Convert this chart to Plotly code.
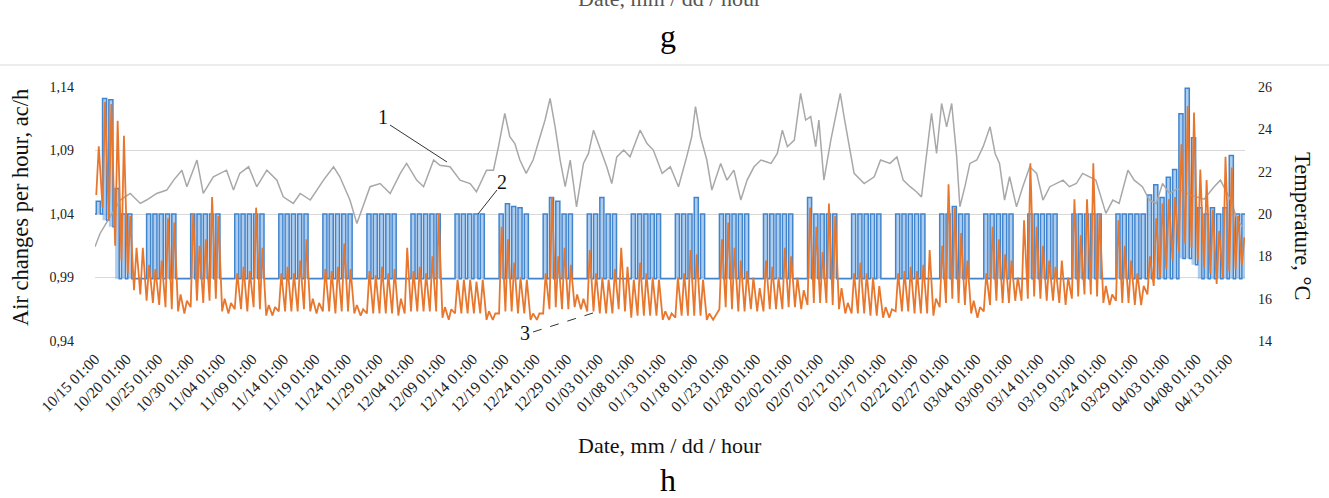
import numpy as np
import pandas as pd
import plotly.graph_objects as go

# ---------------- data ----------------
start = pd.Timestamp("2017-10-15 01:00")

tick_labels = [
    "10/15 01:00", "10/20 01:00", "10/25 01:00", "10/30 01:00", "11/04 01:00", "11/09 01:00",
    "11/14 01:00", "11/19 01:00", "11/24 01:00", "11/29 01:00", "12/04 01:00", "12/09 01:00",
    "12/14 01:00", "12/19 01:00", "12/24 01:00", "12/29 01:00", "01/03 01:00", "01/08 01:00",
    "01/13 01:00", "01/18 01:00", "01/23 01:00", "01/28 01:00", "02/02 01:00", "02/07 01:00",
    "02/12 01:00", "02/17 01:00", "02/22 01:00", "02/27 01:00", "03/04 01:00", "03/09 01:00",
    "03/14 01:00", "03/19 01:00", "03/24 01:00", "03/29 01:00", "04/03 01:00", "04/08 01:00",
    "04/13 01:00",
]

# series 2 (blue): daytime air change level and night level, one value per day (ac/h)
blue_day = [
    1.05, 1.131, 1.13, 1.06, 1.04, 1.04, 0.989,
    0.989, 1.04, 1.04, 1.04, 1.04, 1.04, 0.989,
    0.989, 1.04, 1.04, 1.04, 1.04, 1.04, 0.989,
    0.989, 1.04, 1.04, 1.04, 1.04, 1.04, 0.989,
    0.989, 1.04, 1.04, 1.04, 1.04, 1.04, 0.989,
    0.989, 1.04, 1.04, 1.04, 1.04, 1.04, 0.989,
    0.989, 1.04, 1.04, 1.04, 1.04, 1.04, 0.989,
    0.989, 1.04, 1.04, 1.04, 1.04, 1.04, 0.989,
    0.989, 1.04, 1.04, 1.04, 1.04, 1.04, 0.989,
    0.989, 1.04, 1.048, 1.046, 1.045, 1.04, 0.989,
    0.989, 1.04, 1.053, 1.05, 1.04, 1.04, 0.989,
    0.989, 1.04, 1.04, 1.053, 1.04, 1.04, 0.989,
    0.989, 1.04, 1.04, 1.04, 1.04, 1.04, 0.989,
    0.989, 1.04, 1.04, 1.04, 1.053, 1.04, 0.989,
    0.989, 1.04, 1.04, 1.04, 1.04, 1.04, 0.989,
    0.989, 1.04, 1.04, 1.04, 1.04, 1.04, 0.989,
    0.989, 1.053, 1.04, 1.04, 1.04, 1.04, 0.989,
    0.989, 1.04, 1.04, 1.04, 1.04, 1.04, 0.989,
    0.989, 1.04, 1.04, 1.04, 1.04, 1.04, 0.989,
    0.989, 1.04, 1.04, 1.046, 1.04, 1.04, 0.989,
    0.989, 1.04, 1.04, 1.04, 1.04, 1.04, 0.989,
    0.989, 1.04, 1.04, 1.04, 1.04, 1.04, 0.989,
    0.989, 1.04, 1.04, 1.04, 1.04, 1.04, 0.989,
    0.989, 1.04, 1.04, 1.04, 1.04, 1.04, 1.055,
    1.063, 1.053, 1.069, 1.075, 1.119, 1.139, 1.10,
    1.045, 1.04, 1.045, 1.04, 1.045, 1.086, 1.04,
    1.04,
]
blue_night = [
    1.04, 1.035, 1.03, 0.989, 0.989, 0.989, 0.989,
    0.989, 0.989, 0.989, 0.989, 0.989, 0.989, 0.989,
    0.989, 0.989, 0.989, 0.989, 0.989, 0.989, 0.989,
    0.989, 0.989, 0.989, 0.989, 0.989, 0.989, 0.989,
    0.989, 0.989, 0.989, 0.989, 0.989, 0.989, 0.989,
    0.989, 0.989, 0.989, 0.989, 0.989, 0.989, 0.989,
    0.989, 0.989, 0.989, 0.989, 0.989, 0.989, 0.989,
    0.989, 0.989, 0.989, 0.989, 0.989, 0.989, 0.989,
    0.989, 0.989, 0.989, 0.989, 0.989, 0.989, 0.989,
    0.989, 0.989, 0.989, 0.989, 0.989, 0.989, 0.989,
    0.989, 0.989, 0.989, 0.989, 0.989, 0.989, 0.989,
    0.989, 0.989, 0.989, 0.989, 0.989, 0.989, 0.989,
    0.989, 0.989, 0.989, 0.989, 0.989, 0.989, 0.989,
    0.989, 0.989, 0.989, 0.989, 0.989, 0.989, 0.989,
    0.989, 0.989, 0.989, 0.989, 0.989, 0.989, 0.989,
    0.989, 0.989, 0.989, 0.989, 0.989, 0.989, 0.989,
    0.989, 0.989, 0.989, 0.989, 0.989, 0.989, 0.989,
    0.989, 0.989, 0.989, 0.989, 0.989, 0.989, 0.989,
    0.989, 0.989, 0.989, 0.989, 0.989, 0.989, 0.989,
    0.989, 0.989, 0.989, 0.989, 0.989, 0.989, 0.989,
    0.989, 0.989, 0.989, 0.989, 0.989, 0.989, 0.989,
    0.989, 0.989, 0.989, 0.989, 0.989, 0.989, 0.989,
    0.989, 0.989, 0.989, 0.989, 0.989, 0.989, 0.989,
    0.989, 0.989, 0.989, 0.989, 0.989, 0.989, 0.989,
    0.989, 0.989, 0.989, 0.989, 1.005, 1.005, 1.0,
    0.989, 0.989, 0.989, 0.989, 0.989, 0.989, 0.989,
    0.989,
]

# series 3 (orange): daily maximum and minimum temperature, deg C
orange_peak = [
    23.2, 25.3, 25.2, 24.4, 23.7, 19.9, 18.4,
    18.4, 17.6, 17.4, 17.8, 19.8, 19.6, 16.2,
    15.9, 20.0, 18.5, 18.8, 20.8, 19.9, 16.0,
    15.8, 17.2, 17.5, 17.3, 20.3, 18.4, 15.7,
    15.6, 17.2, 17.5, 17.2, 17.8, 18.8, 16.0,
    15.8, 17.4, 17.3, 17.5, 18.6, 17.4, 15.7,
    15.5, 17.3, 17.1, 17.5, 17.2, 17.4, 16.0,
    18.4, 17.3, 17.5, 17.2, 18.0, 20.0, 15.6,
    15.5, 16.9, 16.9, 16.9, 16.8, 16.9, 15.4,
    15.3, 19.4, 18.8, 17.7, 17.0, 16.9, 15.3,
    15.3, 17.2, 20.8, 18.0, 18.4, 17.6, 16.2,
    16.0, 18.3, 17.2, 17.0, 16.9, 17.4, 18.4,
    17.5, 16.9, 17.7, 17.2, 17.0, 16.9, 15.4,
    15.3, 17.0, 17.2, 18.3, 18.1, 16.9, 15.3,
    15.2, 18.8, 19.6, 18.4, 17.8, 17.3, 17.0,
    16.5, 17.8, 17.5, 17.0, 18.4, 18.0, 17.0,
    16.4, 20.3, 19.4, 18.2, 20.5, 19.9, 16.5,
    15.8, 17.2, 17.7, 17.2, 17.0, 16.6, 15.6,
    15.5, 17.2, 17.3, 17.5, 17.3, 17.6, 18.3,
    16.0, 18.5, 21.4, 20.3, 19.1, 17.8, 15.9,
    15.6, 17.2, 19.4, 18.8, 18.1, 17.8, 17.0,
    19.7, 22.4, 19.4, 18.5, 17.8, 17.5, 17.8,
    17.0, 20.7, 19.0, 20.7, 22.4, 20.0, 16.6,
    16.2, 19.7, 18.5, 17.8, 17.2, 16.6, 18.0,
    19.8, 20.5, 20.7, 20.8, 23.3, 25.1, 24.8,
    22.1, 21.6, 20.2, 19.2, 22.7, 22.2, 19.9,
    18.9,
]
orange_trough = [
    20.9, 20.3, 19.7, 18.5, 17.8, 17.2, 16.4,
    16.2, 15.9, 15.8, 15.7, 15.6, 15.5, 15.4,
    15.3, 15.6, 15.9, 15.8, 15.9, 16.0, 15.4,
    15.3, 15.5, 15.5, 15.4, 15.6, 15.5, 15.2,
    15.2, 15.4, 15.4, 15.4, 15.4, 15.5, 15.4,
    15.3, 15.4, 15.4, 15.3, 15.4, 15.4, 15.3,
    15.2, 15.3, 15.3, 15.3, 15.3, 15.3, 15.2,
    15.3, 15.4, 15.4, 15.4, 15.4, 15.4, 15.1,
    15.0, 15.3, 15.3, 15.3, 15.3, 15.3, 15.0,
    15.0, 15.3, 15.4, 15.4, 15.3, 15.3, 15.0,
    15.0, 15.3, 15.5, 15.6, 15.5, 15.5, 15.6,
    15.5, 15.4, 15.4, 15.3, 15.3, 15.3, 15.5,
    15.4, 15.1, 15.2, 15.2, 15.2, 15.2, 15.0,
    15.0, 15.1, 15.2, 15.2, 15.2, 15.2, 15.0,
    15.0, 15.5, 15.6, 15.5, 15.4, 15.4, 15.5,
    15.4, 15.4, 15.5, 15.5, 15.5, 15.6, 15.6,
    15.5, 15.7, 15.8, 15.8, 15.8, 15.7, 15.5,
    15.3, 15.3, 15.3, 15.3, 15.2, 15.2, 15.1,
    15.1, 15.4, 15.4, 15.4, 15.3, 15.3, 15.3,
    15.2, 15.6, 15.8, 16.0, 15.8, 15.7, 15.3,
    15.1, 15.4, 15.7, 15.9, 15.8, 15.8, 15.9,
    15.9, 16.0, 16.1, 16.0, 15.9, 15.9, 15.8,
    15.7, 16.0, 16.1, 16.2, 16.2, 16.1, 15.8,
    15.7, 15.9, 15.8, 15.8, 15.7, 15.7, 16.2,
    16.6, 17.0, 17.4, 17.8, 18.2, 18.6, 18.4,
    17.8, 17.5, 17.2, 16.7, 17.0, 17.3, 17.4,
    17.6,
]

# series 1 (gray): temperature readings, time in days after 10/15 01:00
gray_day = [
    0.0, 0.8, 2.4, 4.0, 5.6, 7.2, 8.2, 9.8, 11.4, 12.5, 13.8, 14.6, 16.2, 17.2, 18.8,
    20.9, 22.0, 23.0, 24.4, 25.7, 27.3, 28.9, 29.9, 31.5, 32.6, 34.2, 36.3, 37.9, 38.9,
    40.5, 41.6, 42.6, 43.7, 45.3, 46.9, 48.5, 49.5, 51.1, 52.2, 53.8, 54.8, 56.4, 58.0,
    59.6, 60.6, 62.2, 63.3, 64.1, 65.1, 65.9, 66.7, 67.5, 68.5, 69.6, 70.7, 71.5, 72.3,
    73.1, 73.9, 74.7, 75.5, 76.5, 77.6, 78.4, 79.2, 80.2, 81.3, 82.1, 82.9, 84.0, 85.0,
    86.6, 87.7, 88.7, 90.1, 91.4, 92.7, 94.0, 94.8, 95.4, 96.2, 97.2, 98.0, 99.4, 100.4,
    101.5, 102.6, 103.6, 104.7, 105.8, 107.4, 108.4, 109.2, 110.0, 111.1, 112.1, 112.9,
    113.7, 114.5, 115.0, 115.8, 116.9, 117.7, 118.4, 119.0, 119.8, 120.6, 122.2, 123.8,
    124.8, 126.3, 127.4, 128.4, 129.5, 130.5, 131.3, 132.1, 132.9, 133.7, 134.5, 135.3,
    136.1, 136.9, 137.4, 138.2, 139.0, 140.1, 141.1, 142.2, 143.0, 143.7, 144.5, 145.3,
    146.4, 147.4, 148.5, 149.6, 150.6, 151.7, 152.7, 153.8, 154.8, 155.9, 156.9, 158.0,
    159.0, 160.6, 161.7, 162.7, 164.1, 165.1, 166.4, 167.5, 168.6, 169.6, 170.7, 172.0,
    174.0, 176.2, 177.8, 178.8, 180.4, 181.5, 182.3,
]
gray_temp = [
    18.45, 19.08, 19.87, 20.66, 20.97, 20.50, 20.66, 20.97, 21.13, 21.60, 22.07, 21.29, 22.55, 20.97, 21.76,
    22.07, 21.13, 21.92, 22.23, 21.29, 22.07, 21.60, 20.81, 20.50, 20.97, 20.66, 21.60, 22.23, 21.76,
    20.66, 19.55, 20.34, 21.29, 21.44, 20.97, 21.92, 22.39, 21.60, 21.29, 22.55, 22.30, 22.23, 21.60,
    21.44, 21.05, 22.07, 22.07, 23.18, 24.75, 23.65, 23.33, 22.55, 21.92, 22.55, 23.65, 24.44, 25.46,
    24.12, 22.55, 21.29, 22.55, 20.34, 22.39, 22.86, 23.96, 23.18, 22.23, 21.44, 22.70, 23.02, 22.70,
    23.96, 23.33, 23.02, 21.92, 22.23, 21.29, 22.70, 23.65, 25.07, 23.65, 22.55, 21.13, 22.39, 21.60,
    22.07, 20.66, 21.60, 22.23, 22.55, 22.39, 22.86, 23.96, 23.18, 23.49, 25.70, 24.44,
    24.60, 23.18, 24.44, 21.60, 23.49, 24.75, 25.70, 24.60, 23.18, 21.92, 21.44, 21.76,
    22.55, 22.39, 22.70, 21.60, 21.29, 21.05, 20.81, 22.86, 24.75, 22.86, 25.22, 24.12,
    25.22, 22.70, 20.34, 21.29, 22.39, 22.55, 23.18, 24.12, 22.86, 22.39, 20.66, 21.76,
    20.34, 21.29, 22.23, 21.92, 20.66, 21.29, 21.44, 21.60, 21.29, 21.44, 21.92, 21.76,
    21.60, 20.03, 20.66, 20.50, 22.07, 21.60, 21.29, 20.66, 20.50, 21.44, 20.97, 21.20,
    20.90, 20.70, 21.29, 21.60, 20.66, 19.71, 19.40,
]

# ---------------- build traces ----------------
def at(offsets):
    return start + pd.to_timedelta(np.asarray(offsets, dtype=float), unit="D")

n_days = len(blue_day)
bx, by, bb = [0.0], [blue_night[0]], [blue_night[0]]
ox, oy = [], []
for d in range(n_days):
    bx += [d + 0.2, d + 0.85]
    by += [blue_day[d], blue_night[d]]
    bb += [blue_night[d], blue_night[d]]
    ox += [d + 0.2, d + 0.6]
    oy += [orange_trough[d], orange_peak[d]]

serif = "Liberation Serif, Times New Roman, serif"

fig = go.Figure()
fig.add_trace(go.Scatter(x=at(bx), y=bb, mode="lines", line=dict(width=0, shape="hv"),
                         hoverinfo="skip", showlegend=False, yaxis="y"))
fig.add_trace(go.Scatter(x=at(bx), y=by, mode="lines", name="2",
                         line=dict(color="#4285cf", width=1.5, shape="hv"),
                         fill="tonexty", fillcolor="rgba(120,170,222,0.6)",
                         showlegend=False, yaxis="y"))
fig.add_trace(go.Scatter(x=at(gray_day), y=gray_temp, mode="lines", name="1",
                         line=dict(color="#a8a8a8", width=1.5), showlegend=False, yaxis="y2"))
fig.add_trace(go.Scatter(x=at(ox), y=oy, mode="lines", name="3",
                         line=dict(color="#e8772e", width=1.8), showlegend=False, yaxis="y2"))

tick_vals = at([5 * k for k in range(len(tick_labels))])

# plot area in pixels: x 95..1245, y 87..341
L, R, T, B = 95, 1245, 87, 341
W, H = 1329, 498
def px(x):
    return (x - L) / (R - L)
def py(y):
    return (B - y) / (B - T)

fig.update_layout(
    width=W, height=H,
    margin=dict(l=L, r=W - R, t=T, b=H - B),
    paper_bgcolor="white", plot_bgcolor="white",
    separators=", ",
    font=dict(family=serif, color="#222"),
    xaxis=dict(
        type="date",
        range=[start, start + pd.Timedelta(days=182.7)],
        tickmode="array", tickvals=tick_vals, ticktext=tick_labels,
        tickangle=-45, tickfont=dict(family=serif, size=15.5, color="#222"),
        showgrid=False, zeroline=False, showline=False, ticks="",
        ticklabelstandoff=5,
    ),
    yaxis=dict(
        range=[0.94, 1.14], tickmode="array", tickvals=[0.94, 0.99, 1.04, 1.09, 1.14],
        tickformat=".2f", tickfont=dict(family=serif, size=14, color="#222"),
        showgrid=True, gridcolor="#d9d9d9", gridwidth=1.2,
        zeroline=False, showline=False, ticks="", ticklabelstandoff=20,
    ),
    yaxis2=dict(
        range=[14, 26], overlaying="y", side="right", tickmode="array",
        tickvals=[14, 16, 18, 20, 22, 24, 26],
        tickfont=dict(family=serif, size=14, color="#222"),
        showgrid=False, zeroline=False, showline=False, ticks="", ticklabelstandoff=12,
    ),
)

ann = [
    dict(text="Date, mm / dd / hour", x=px(670), y=py(-1), font=dict(size=22, color="#555")),
    dict(text="g", x=px(668), y=py(36), font=dict(size=32, color="#000")),
    dict(text="Date, mm / dd / hour", x=px(670), y=py(445), font=dict(size=22, color="#111")),
    dict(text="h", x=px(668), y=py(480), font=dict(size=32, color="#000")),
    dict(text="Air changes per hour, ac/h", x=px(20), y=py(208), textangle=-90,
         font=dict(size=22.5, color="#111")),
    dict(text="Temperature, °C", x=px(1303), y=py(226), textangle=90,
         font=dict(size=22.5, color="#111")),
    dict(text="1", x=px(383), y=py(117), font=dict(size=20, color="#111")),
    dict(text="2", x=px(502), y=py(182), font=dict(size=20, color="#111")),
    dict(text="3", x=px(525), y=py(333), font=dict(size=20, color="#111")),
]
for a in ann:
    a.update(xref="paper", yref="paper", showarrow=False, xanchor="center", yanchor="middle")
    a["font"]["family"] = serif
fig.update_layout(annotations=ann)

shapes = [
    dict(type="line", x0=px(0), x1=px(W), y0=py(65), y1=py(65), line=dict(color="#d9d9d9", width=1.2)),
    dict(type="line", x0=px(390), y0=py(125), x1=px(447), y1=py(162), line=dict(color="#333", width=1)),
    dict(type="line", x0=px(497), y0=py(190), x1=px(478), y1=py(214), line=dict(color="#333", width=1)),
    dict(type="line", x0=px(533), y0=py(332), x1=px(593), y1=py(313), line=dict(color="#333", width=1, dash="dash")),
]
for s in shapes:
    s.update(xref="paper", yref="paper", layer="above")
fig.update_layout(shapes=shapes)

fig.write_html("out.html")
